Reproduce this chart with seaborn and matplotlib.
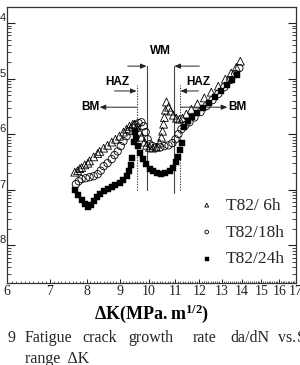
import numpy as np
import pandas as pd
import seaborn as sns
import matplotlib
matplotlib.use("Agg")
import matplotlib.pyplot as plt
from matplotlib.ticker import FixedLocator, NullFormatter, LogLocator

# ---------------- data ----------------
dK_6h = [7.66, 7.74, 7.80, 7.85, 7.94, 8.03, 8.08, 8.20, 8.32, 8.38, 8.50, 8.62, 8.75, 8.87,
         9.00, 9.13, 9.23, 9.33, 9.44, 9.50, 9.57, 9.68, 9.74, 9.85, 9.92, 10.03, 10.14, 10.28,
         10.40, 10.47, 10.51, 10.55, 10.58, 10.62, 10.66, 10.74, 10.82, 10.93, 11.05, 11.17,
         11.29, 11.45, 11.66, 11.92, 12.22, 12.53, 12.85, 13.18, 13.46, 13.71, 13.91]
rate_6h = [2.07e-7, 2.2e-7, 2.4e-7, 2.5e-7, 2.8e-7, 3.0e-7, 3.3e-7, 3.9e-7, 4.5e-7, 4.9e-7,
           5.6e-7, 6.3e-7, 7.2e-7, 8.1e-7, 9.2e-7, 1.09e-6, 1.23e-6, 1.39e-6, 1.51e-6, 1.51e-6,
           1.33e-6, 1.09e-6, 8.8e-7, 7.2e-7, 6.3e-7, 5.8e-7, 5.6e-7, 5.8e-7, 6.9e-7, 8.8e-7,
           1.13e-6, 1.51e-6, 2.0e-6, 2.7e-6, 3.8e-6, 3.06e-6, 2.6e-6, 2.2e-6, 1.94e-6, 1.86e-6,
           1.94e-6, 2.3e-6, 2.8e-6, 3.5e-6, 4.5e-6, 5.7e-6, 7.3e-6, 9.8e-6, 1.26e-5, 1.6e-5,
           2.06e-5]

dK_18h = [7.69, 7.77, 7.85, 7.97, 8.08, 8.20, 8.32, 8.41, 8.50, 8.62, 8.75, 8.84, 8.94, 9.04,
          9.13, 9.23, 9.33, 9.44, 9.54, 9.64, 9.74, 9.82, 9.89, 9.96, 10.03, 10.14, 10.28,
          10.43, 10.58, 10.74, 10.89, 11.01, 11.13, 11.25, 11.41, 11.58, 11.79, 12.05, 12.31,
          12.58, 12.85, 13.13, 13.42, 13.66, 13.86]
rate_18h = [1.26e-7, 1.42e-7, 1.55e-7, 1.61e-7, 1.68e-7, 1.75e-7, 1.9e-7, 2.2e-7, 2.65e-7,
            3.0e-7, 3.55e-7, 4.2e-7, 4.9e-7, 6.1e-7, 7.5e-7, 9.2e-7, 1.13e-6, 1.28e-6, 1.45e-6,
            1.58e-6, 1.64e-6, 1.39e-6, 1.09e-6, 8.1e-7, 6.6e-7, 6.1e-7, 5.8e-7, 5.8e-7, 6.1e-7,
            6.3e-7, 6.9e-7, 8.1e-7, 1.0e-6, 1.23e-6, 1.45e-6, 1.64e-6, 2.0e-6, 2.5e-6, 3.2e-6,
            4.1e-6, 5.3e-6, 7.0e-6, 9.4e-6, 1.21e-5, 1.55e-5]

dK_24h = [7.66, 7.74, 7.85, 7.94, 8.03, 8.11, 8.20, 8.29, 8.38, 8.50, 8.62, 8.75, 8.87, 9.00,
          9.13, 9.23, 9.30, 9.37, 9.40, 9.47, 9.50, 9.54, 9.61, 9.68, 9.78, 9.89, 10.03, 10.17,
          10.32, 10.47, 10.62, 10.78, 10.93, 11.05, 11.13, 11.21, 11.29, 11.37, 11.50, 11.70,
          11.92, 12.18, 12.44, 12.71, 12.99, 13.27, 13.51, 13.76]
rate_24h = [9.8e-8, 8.0e-8, 6.5e-8, 5.5e-8, 4.8e-8, 5.3e-8, 6.2e-8, 7.3e-8, 8.3e-8, 9.4e-8,
            1.02e-7, 1.11e-7, 1.21e-7, 1.31e-7, 1.48e-7, 1.75e-7, 2.15e-7, 2.8e-7, 3.7e-7,
            7.2e-7, 1.09e-6, 8.5e-7, 6.1e-7, 4.5e-7, 3.55e-7, 2.9e-7, 2.4e-7, 2.15e-7, 1.98e-7,
            1.9e-7, 1.98e-7, 2.15e-7, 2.5e-7, 3.15e-7, 3.9e-7, 5.2e-7, 6.9e-7, 1.33e-6, 1.71e-6,
            2.0e-6, 2.4e-6, 2.94e-6, 3.6e-6, 4.6e-6, 5.9e-6, 7.6e-6, 9.4e-6, 1.16e-5]

series_labels = ["T82/ 6h", "T82/18h", "T82/24h"]
x_ticks = [6, 7, 8, 9, 10, 11, 12, 13, 14, 15, 16, 17]
y_ticks = [1e-8, 1e-7, 1e-6, 1e-5, 1e-4]
y_ticklabels = ["8", "7", "6", "5", "4"]

# zone boundaries (dK) drawn as vertical guide lines
haz_left, wm_left, wm_right, haz_right = 9.57, 9.92, 10.97, 11.21

# ---------------- figure ----------------
sns.set_style("ticks")
plt.rcParams["font.family"] = ["Liberation Serif", "DejaVu Serif"]
plt.rcParams["mathtext.fontset"] = "custom"
plt.rcParams["mathtext.rm"] = "Liberation Serif"
plt.rcParams["mathtext.bf"] = "Liberation Serif:bold"

fig = plt.figure(figsize=(3.0, 3.65), dpi=100)
ax = fig.add_axes([7 / 300, 82 / 365, 289 / 300, 276 / 365])

ax.set_xscale("log")
ax.set_yscale("log")

sns.scatterplot(x=dK_6h, y=rate_6h, marker="^", s=32, facecolor="none",
                edgecolor="black", linewidth=0.6, color="black", ax=ax,
                label=series_labels[0], zorder=3)
sns.scatterplot(x=dK_18h, y=rate_18h, marker="o", s=28, facecolor="none",
                edgecolor="black", linewidth=0.6, color="black", ax=ax,
                label=series_labels[1], zorder=3)
sns.scatterplot(x=dK_24h, y=rate_24h, marker="s", s=24, color="black",
                edgecolor="black", linewidth=0.3, ax=ax,
                label=series_labels[2], zorder=4)

ax.set_xlim(6, 17)
ax.set_ylim(10 ** -8.68, 10 ** -3.71)

# vertical zone lines
ax.plot([haz_left, haz_left], [9.8e-8, 7.6e-6], ls=(0, (1.2, 1.2)), color="#444", lw=0.8)
ax.plot([haz_right, haz_right], [9.8e-8, 7.6e-6], ls=(0, (1.2, 1.2)), color="#444", lw=0.8)
ax.plot([wm_left, wm_left], [9.8e-8, 1.68e-5], color="#444", lw=0.8)
ax.plot([wm_right, wm_right], [8.6e-8, 1.68e-5], color="#444", lw=0.8)

arrow = dict(arrowstyle="-|>,head_length=0.35,head_width=0.15", color="#222", lw=0.7,
             shrinkA=0, shrinkB=0)
ann_font = dict(family="Liberation Sans", fontweight="bold", fontsize=8.5, color="black",
                ha="center", va="center")
# WM
ax.annotate("", xy=(wm_left, 1.68e-5), xytext=(9.27, 1.68e-5), arrowprops=arrow)
ax.annotate("", xy=(wm_right, 1.68e-5), xytext=(12.0, 1.68e-5), arrowprops=arrow)
ax.text(10.43, 3.13e-5, "WM", **ann_font)
# HAZ
ax.annotate("", xy=(haz_left, 6.0e-6), xytext=(8.84, 6.0e-6), arrowprops=arrow)
ax.annotate("", xy=(haz_right, 6.0e-6), xytext=(11.96, 6.0e-6), arrowprops=arrow)
ax.text(8.94, 8.65e-6, "HAZ", **ann_font)
ax.text(11.96, 8.65e-6, "HAZ", **ann_font)
# BM
ax.annotate("", xy=(8.38, 3.06e-6), xytext=(haz_left, 3.06e-6), arrowprops=arrow)
ax.annotate("", xy=(13.27, 3.06e-6), xytext=(haz_right, 3.06e-6), arrowprops=arrow)
ax.text(8.11, 3.06e-6, "BM", **ann_font)
ax.text(13.76, 3.06e-6, "BM", **ann_font)

# ticks
ax.xaxis.set_major_locator(FixedLocator(x_ticks))
ax.set_xticklabels([str(v) for v in x_ticks])
ax.xaxis.set_minor_locator(FixedLocator(np.arange(6.1, 17, 0.1)))
ax.xaxis.set_minor_formatter(NullFormatter())
ax.yaxis.set_major_locator(FixedLocator(y_ticks))
ax.set_yticklabels(y_ticklabels)
ax.yaxis.set_minor_locator(LogLocator(base=10, subs=np.arange(2, 10)))
ax.yaxis.set_minor_formatter(NullFormatter())

ax.tick_params(axis="x", which="both", direction="in", top=False, bottom=True,
               labelsize=10, pad=1.5, colors="#222")
ax.tick_params(axis="x", which="major", length=3, width=0.7)
ax.tick_params(axis="x", which="minor", length=1.8, width=0.5)
ax.tick_params(axis="y", which="both", direction="in", left=True, right=True,
               labelsize=8, pad=1, colors="#222")
ax.tick_params(axis="y", which="major", length=6, width=0.8)
ax.tick_params(axis="y", which="minor", length=3, width=0.6)
for lab in ax.get_yticklabels():
    lab.set_fontfamily("Liberation Sans")
    lab.set_verticalalignment("bottom")

for sp in ax.spines.values():
    sp.set_color("#333")
    sp.set_linewidth(0.9)

ax.set_xlabel(r"$\mathbf{\Delta K(MPa.m^{1/2})}$", fontsize=13, labelpad=3, color="black")
ax.set_ylabel("")

leg = ax.legend(loc="upper left", bbox_to_anchor=(0.64, 0.335), frameon=False,
                prop={"family": "Liberation Serif", "size": 12.5},
                handlelength=0.9, handletextpad=0.65, labelspacing=0.62, markerscale=0.5,
                borderaxespad=0)

# caption fragment below the chart
cap_words = ["9", "Fatigue", "crack", "growth", "rate", "da/dN", "vs.", "S"]
cap_x = [8, 25, 82, 128, 193, 230, 278, 297]
for w, px in zip(cap_words, cap_x):
    fig.text(px / 300, 1 - 342 / 365, w, fontsize=11.5, family="Liberation Serif",
             ha="left", va="baseline")
fig.text(25 / 300, 1 - 351 / 365, "range  ΔK", fontsize=11.5, family="Liberation Serif",
         ha="left", va="top")

fig.savefig("out.png", dpi=100)
